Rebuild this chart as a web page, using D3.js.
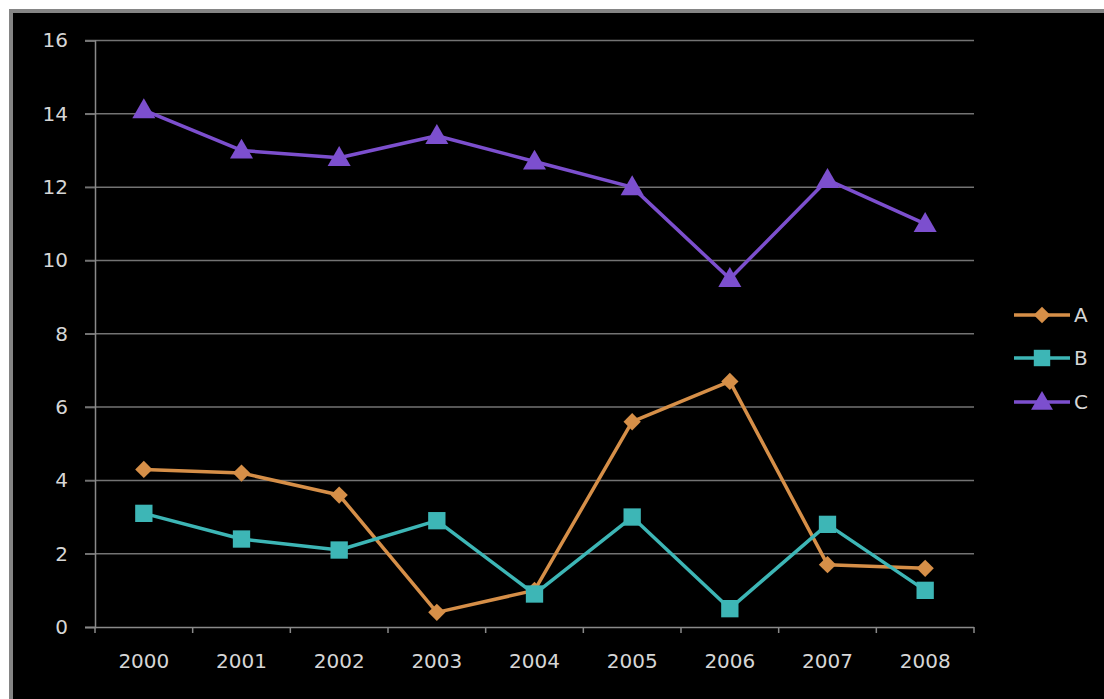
<!DOCTYPE html>
<html><head><meta charset="utf-8">
<script src="https://cdn.jsdelivr.net/npm/d3@7"></script>
<style>html,body{margin:0;padding:0;background:#fff;}svg{display:block;}</style>
</head><body>
<svg id="c" width="1104" height="699"></svg>
<script>
const years = ["2000","2001","2002","2003","2004","2005","2006","2007","2008"];
const seriesA = [4.3, 4.2, 3.6, 0.4, 1.0, 5.6, 6.7, 1.7, 1.6];
const seriesB = [3.1, 2.4, 2.1, 2.9, 0.9, 3.0, 0.5, 2.8, 1.0];
const seriesC = [14.1, 13.0, 12.8, 13.4, 12.7, 12.0, 9.5, 12.2, 11.0];
const seriesNames = ["A", "B", "C"];
const yTicks = [0, 2, 4, 6, 8, 10, 12, 14, 16];

const svg = d3.select("#c");
// frame
svg.append("rect").attr("x", 9).attr("y", 9).attr("width", 1095).attr("height", 690).attr("fill", "#858585");
svg.append("rect").attr("x", 13).attr("y", 13).attr("width", 1091).attr("height", 686).attr("fill", "#000");

const L = 95, R = 974, T = 40.5, B = 627;
const x = d3.scaleBand().domain(years).range([L, R]);
const y = d3.scaleLinear().domain([0, 16]).range([B, T]);

const font = "'DejaVu Sans', sans-serif";
const textCol = "#d6d6d6";

// gridlines
svg.append("g").selectAll("line").data(yTicks.filter(d => d > 0)).join("line")
  .attr("x1", 85).attr("x2", R).attr("y1", d => y(d)).attr("y2", d => y(d))
  .attr("stroke", "#737373").attr("stroke-width", 1.5);

// y axis
const yAxis = svg.append("g").attr("transform", `translate(${L},0)`)
  .call(d3.axisLeft(y).tickValues(yTicks).tickSize(10).tickPadding(17));
yAxis.select(".domain").attr("stroke", "#8a8a8a").attr("stroke-width", 1.5);
yAxis.selectAll(".tick line").attr("stroke", "#737373").attr("stroke-width", 1.5);
yAxis.selectAll("text").attr("fill", textCol).attr("font-family", font).attr("font-size", 20);

// x axis
const xAxis = svg.append("g").attr("transform", `translate(0,${B})`)
  .call(d3.axisBottom(x).tickSize(0).tickPadding(27));
xAxis.select(".domain").attr("stroke", "#8a8a8a").attr("stroke-width", 1.5).attr("d", `M${L - 10},0.5H${R}`);
xAxis.selectAll("text").attr("fill", textCol).attr("font-family", font).attr("font-size", 20);
const bounds = years.map(d => x(d)).concat([R]);
svg.append("g").selectAll("line").data(bounds).join("line")
  .attr("x1", d => d).attr("x2", d => d).attr("y1", B).attr("y2", B + 6)
  .attr("stroke", "#8a8a8a").attr("stroke-width", 1.5);

const colors = ["#d68f48", "#3db6b6", "#7c4fce"];
const data = [seriesA, seriesB, seriesC];
const symbols = [d3.symbolSquare, d3.symbolSquare, d3.symbolTriangle];
const rotations = [45, 0, 0];
const sizes = [150, 300, 230];
const cx = d => x(d) + x.bandwidth() / 2;
const line = d3.line().x((d, i) => cx(years[i])).y(d => y(d));

data.forEach((vals, k) => {
  svg.append("path").datum(vals).attr("d", line).attr("fill", "none")
    .attr("stroke", colors[k]).attr("stroke-width", 3.5).attr("stroke-linejoin", "round");
  svg.append("g").selectAll("path").data(vals).join("path")
    .attr("transform", (d, i) => `translate(${cx(years[i])},${y(d) + (k === 2 ? 1.5 : 0)}) rotate(${rotations[k]})`)
    .attr("d", d3.symbol().type(symbols[k]).size(sizes[k]))
    .attr("fill", colors[k]);
});

// legend
const legY = [315, 358, 402];
seriesNames.forEach((n, k) => {
  const g = svg.append("g").attr("transform", `translate(0,${legY[k]})`);
  g.append("line").attr("x1", 1014).attr("x2", 1070).attr("y1", 0).attr("y2", 0)
    .attr("stroke", colors[k]).attr("stroke-width", 3.5);
  g.append("path").attr("transform", `translate(1042,${k === 2 ? 1.5 : 0}) rotate(${rotations[k]})`)
    .attr("d", d3.symbol().type(symbols[k]).size(sizes[k] * 0.9)).attr("fill", colors[k]);
  g.append("text").attr("x", 1074).attr("y", 7).text(n)
    .attr("fill", textCol).attr("font-family", font).attr("font-size", 20);
});
</script>
</body></html>
